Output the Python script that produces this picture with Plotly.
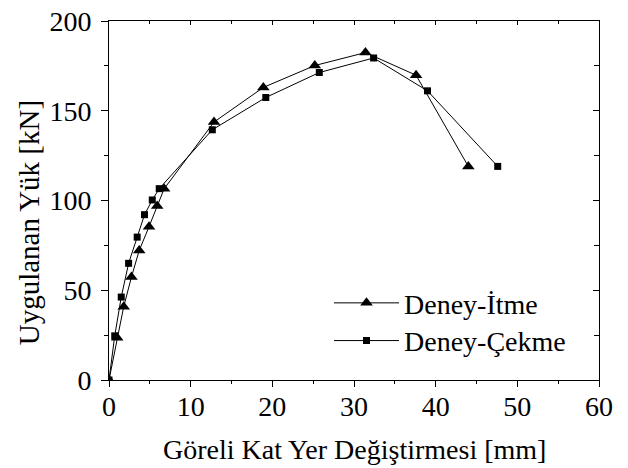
import plotly.graph_objects as go

# Deney-İtme (push)
itme_x = [0, 1.0, 1.8, 2.75, 3.7, 4.9, 5.9, 6.75, 12.86, 18.9, 25.2, 31.4, 37.6, 44.0]
itme_y = [0, 23.5, 40.8, 57.4, 72.2, 85.4, 97.0, 106.5, 143.7, 163.0, 175.2, 182.4, 169.8, 119.0]

# Deney-Çekme (pull)
cekme_x = [0, 0.7, 1.5, 2.4, 3.45, 4.35, 5.3, 6.15, 12.65, 19.2, 25.75, 32.4, 39.0, 47.6]
cekme_y = [0, 24.6, 46.2, 65.0, 79.6, 92.1, 100.3, 106.6, 139.4, 157.4, 171.3, 179.4, 161.1, 119.0]

x_title = "Göreli Kat Yer Değiştirmesi [mm]"
y_title = "Uygulanan Yük [kN]"
FONT = "Liberation Serif"

fig = go.Figure()
fig.add_trace(go.Scatter(x=itme_x, y=itme_y, name="Deney-İtme", mode="lines+markers",
                         line=dict(color="black", width=1), legend="legend",
                         marker=dict(symbol="triangle-up", size=11, color="black")))
fig.add_trace(go.Scatter(x=cekme_x, y=cekme_y, name="Deney-Çekme", mode="lines+markers",
                         line=dict(color="black", width=1), legend="legend2",
                         marker=dict(symbol="square", size=7, color="black")))
fig.add_trace(go.Scatter(x=[], y=[], xaxis="x2", yaxis="y2", showlegend=False, hoverinfo="skip"))

legend_common = dict(xanchor="left", yanchor="middle", bgcolor="rgba(0,0,0,0)",
                     font=dict(size=28, family=FONT, color="black"), itemwidth=65)

fig.update_layout(
    template="none",
    width=628, height=468,
    margin=dict(l=109, r=29, t=21, b=88),
    paper_bgcolor="white", plot_bgcolor="white",
    font=dict(family=FONT, color="black", size=28),
    showlegend=True,
    legend=dict(x=0.449, y=0.214, **legend_common),
    legend2=dict(x=0.449, y=0.109, **legend_common),
    xaxis=dict(range=[0, 60], dtick=10, tick0=0, showgrid=False, zeroline=False,
               showline=True, linecolor="black", linewidth=1, mirror=True,
               ticks="outside", ticklen=6, tickcolor="black",
               minor=dict(dtick=5, ticks="outside", ticklen=3, tickcolor="black"),
               ticklabelstandoff=-5,
               tickfont=dict(size=28, family=FONT, color="black")),
    yaxis=dict(range=[0, 200], dtick=50, tick0=0, showgrid=False, zeroline=False,
               showline=True, linecolor="black", linewidth=1, mirror=True,
               ticks="outside", ticklen=7, tickcolor="black",
               minor=dict(dtick=25, ticks="outside", ticklen=4, tickcolor="black"),
               ticklabelstandoff=4,
               tickfont=dict(size=28, family=FONT, color="black")),
    xaxis2=dict(range=[0, 60], overlaying="x", side="top", dtick=10, tick0=0,
                showgrid=False, zeroline=False, showline=False, showticklabels=False,
                ticks="inside", ticklen=4, tickcolor="black",
                minor=dict(dtick=5, ticks="inside", ticklen=3, tickcolor="black")),
    yaxis2=dict(range=[0, 200], overlaying="y", side="right", dtick=50, tick0=0,
                showgrid=False, zeroline=False, showline=False, showticklabels=False,
                ticks="inside", ticklen=6, tickcolor="black",
                minor=dict(dtick=25, ticks="inside", ticklen=5, tickcolor="black")),
    annotations=[
        dict(text=x_title, xref="paper", yref="paper", x=0.5, y=-0.1936,
             xanchor="center", yanchor="middle", showarrow=False,
             font=dict(size=28, family=FONT, color="black")),
        dict(text=y_title, xref="paper", yref="paper", x=-0.163, y=0.437,
             xanchor="center", yanchor="middle", showarrow=False, textangle=-90,
             font=dict(size=29, family=FONT, color="black")),
    ],
)

fig.write_html("out.html")
